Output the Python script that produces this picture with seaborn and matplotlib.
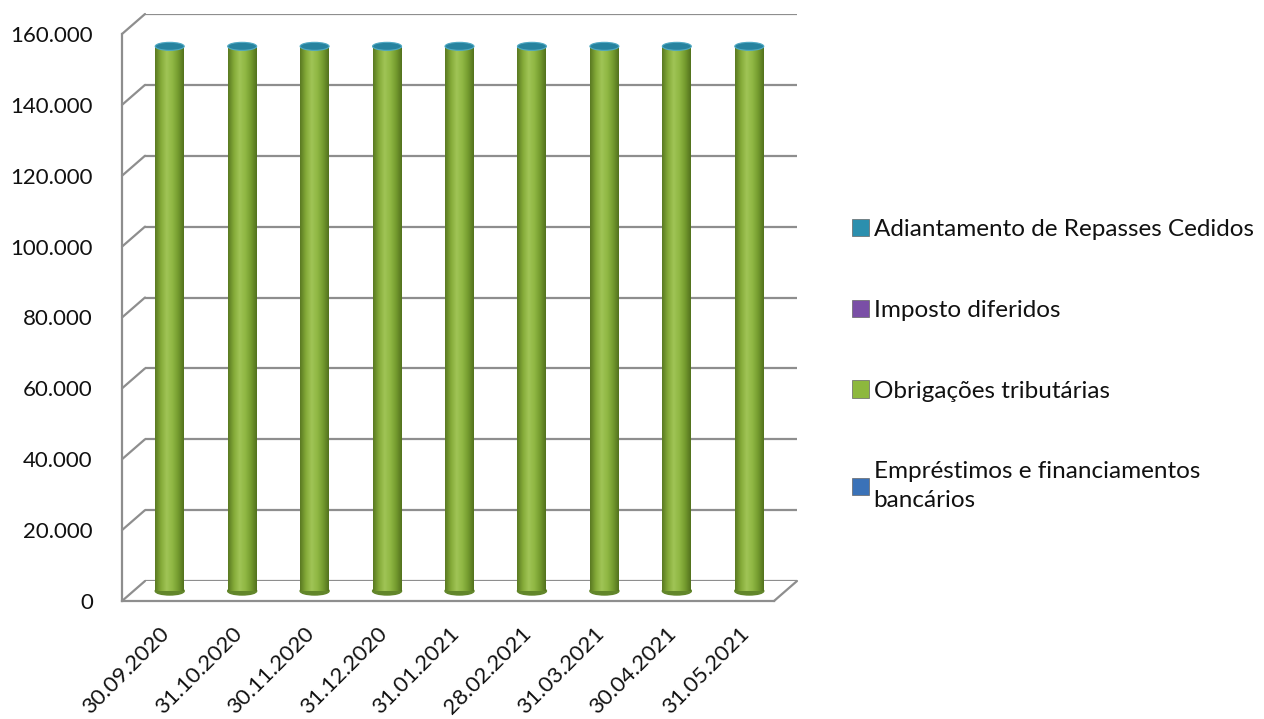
import matplotlib
matplotlib.use("Agg")
import matplotlib.pyplot as plt
import matplotlib.transforms as mtransforms
from matplotlib.colors import LinearSegmentedColormap
from matplotlib.lines import Line2D
from matplotlib.patches import Ellipse, Patch
from matplotlib.ticker import FuncFormatter
import numpy as np
import pandas as pd
import seaborn as sns

# data
dates = ["30.09.2020", "31.10.2020", "30.11.2020", "31.12.2020", "31.01.2021",
         "28.02.2021", "31.03.2021", "30.04.2021", "31.05.2021"]
emprestimos = [0, 0, 0, 0, 0, 0, 0, 0, 0]
obrigacoes = [153000, 153000, 153000, 153000, 153000, 153000, 153000, 153000, 153000]
imposto = [0, 0, 0, 0, 0, 0, 0, 0, 0]
adiantamento = [700, 700, 700, 700, 700, 700, 700, 700, 700]
y_ticks = [0, 20000, 40000, 60000, 80000, 100000, 120000, 140000, 160000]

labels = ["Adiantamento de Repasses Cedidos", "Imposto diferidos",
          "Obrigações tributárias", "Empréstimos e financiamentos\nbancários"]
colors = ["#2b8fae", "#7a4fa6", "#8db83d", "#3a72b8"]

sns.set_style("white")
plt.rcParams["font.family"] = ["Lato", "DejaVu Sans"]
plt.rcParams["text.color"] = "#111111"
plt.rcParams["xtick.labelcolor"] = "#111111"
plt.rcParams["ytick.labelcolor"] = "#111111"
FS = 17.5
TICK_FS = 16

W, H = 1264, 719
fig = plt.figure(figsize=(W / 100, H / 100), dpi=100)

# front plane of the pseudo 3d box, depth offset in pixels
fl, fb, fw, fh = 122, H - 601, 652, 567
dx, dy = 23, 20


def rect(ox, oy):
    return [(fl + ox) / W, (fb + oy) / H, fw / W, fh / H]


ax_back = fig.add_axes(rect(dx, dy), zorder=0)
ax_front = fig.add_axes(rect(0, 0), zorder=1)
ax_mid = fig.add_axes(rect(dx / 2, dy / 2), zorder=2)

for ax in (ax_back, ax_front, ax_mid):
    ax.set_xlim(-0.5, len(dates) - 0.5)
    ax.set_ylim(0, 160000)
    ax.patch.set_alpha(0)

grid_c = "#8e8e8e"

# back wall gridlines
ax_back.axis("off")
for v in y_ticks:
    ax_back.axhline(v, color=grid_c, lw=1.6)


# connectors between front axis and back wall
def to_fig(ax, x, y):
    return fig.transFigure.inverted().transform(ax.transData.transform((x, y)))


for v in y_ticks:
    p0 = to_fig(ax_front, -0.5, v)
    p1 = to_fig(ax_back, -0.5, v)
    fig.add_artist(Line2D([p0[0], p1[0]], [p0[1], p1[1]], color=grid_c, lw=1.6,
                          transform=fig.transFigure, zorder=0.5))
p0 = to_fig(ax_front, len(dates) - 0.5, 0)
p1 = to_fig(ax_back, len(dates) - 0.5, 0)
fig.add_artist(Line2D([p0[0], p1[0]], [p0[1], p1[1]], color=grid_c, lw=1.6,
                      transform=fig.transFigure, zorder=0.5))

# front axes: spines, ticks and labels
for s in ("top", "right"):
    ax_front.spines[s].set_visible(False)
for s in ("left", "bottom"):
    ax_front.spines[s].set_color(grid_c)
    ax_front.spines[s].set_linewidth(1.6)
ax_front.set_yticks(y_ticks)
ax_front.yaxis.set_major_formatter(FuncFormatter(lambda v, p: f"{int(v):,}".replace(",", ".")))
ax_front.tick_params(axis="y", length=6, width=1.6, color=grid_c, labelsize=TICK_FS, pad=15)
ax_front.set_xticks(range(len(dates)))
ax_front.set_xticklabels(dates, rotation=45, ha="right", va="center",
                         rotation_mode="anchor")
ax_front.set_xticks(np.arange(-0.5, len(dates)), minor=True)
ax_front.tick_params(axis="x", which="major", length=0, labelsize=TICK_FS, pad=21)
ax_front.tick_params(axis="x", which="minor", length=7, width=1.6, color=grid_c)
shift = mtransforms.ScaledTranslation(8 / 100, 0, fig.dpi_scale_trans)
for lab in ax_front.get_xticklabels():
    lab.set_transform(lab.get_transform() + shift)

# stacked cylinders: plot cumulative totals, tallest first
df = pd.DataFrame({"date": dates, "emp": emprestimos, "obr": obrigacoes,
                   "imp": imposto, "adi": adiantamento})
stack = ["emp", "obr", "imp", "adi"]
cum = df[stack].cumsum(axis=1)
bar_w = 0.4
for key, col in zip(stack[::-1], colors):
    sns.barplot(x=df["date"], y=cum[key], color=col, width=bar_w, ax=ax_mid,
                saturation=1, linewidth=0)
ax_mid.axis("off")

# cylinder shading
shade = LinearSegmentedColormap.from_list(
    "cyl", ["#5a7a22", "#84aa38", "#a0c456", "#90b844", "#759c2f", "#53721e"])
grad = np.linspace(0, 1, 64)[None, :]
px_per_unit = ax_mid.bbox.height / 160000
cap_h = 8 / px_per_unit
for i, total in enumerate(cum["adi"]):
    top = cum["obr"][i]
    ax_mid.imshow(grad, cmap=shade, aspect="auto", zorder=3,
                  extent=[i - bar_w / 2, i + bar_w / 2, 0, top])
    ax_mid.add_patch(Ellipse((i, 0), bar_w, cap_h, color="#62862a", zorder=2.9,
                             clip_on=False))
    ax_mid.add_patch(Ellipse((i, total), bar_w, cap_h, facecolor="#27839f",
                             edgecolor="#4fa9c4", lw=0.8, zorder=4, clip_on=False))
ax_mid.set_xlim(-0.5, len(dates) - 0.5)
ax_mid.set_ylim(0, 160000)

# legend
handles = [Patch(facecolor=c, edgecolor="#666666", lw=0.5) for c in colors]
leg = fig.legend(handles, labels, loc="upper left", bbox_to_anchor=(830 / W, 1 - 197 / H),
                 frameon=False, fontsize=FS, handlelength=0.7, handleheight=0.7,
                 handletextpad=0.2, labelspacing=2.46)
for t in leg.get_texts():
    t.set_linespacing(1.45)

fig.savefig("out.png", dpi=100)
